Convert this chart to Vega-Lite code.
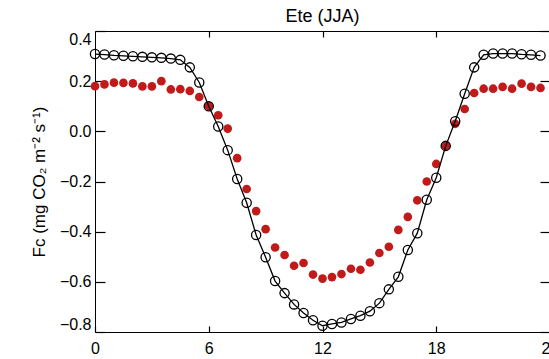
{
  "$schema": "https://vega.github.io/schema/vega-lite/v6.json",
  "width": 455,
  "height": 301,
  "autosize": {"type": "none"},
  "padding": {"left": 95, "top": 31, "right": 0, "bottom": 27},
  "background": "white",
  "config": {
    "view": {"stroke": "black", "strokeWidth": 1},
    "font": "Liberation Sans",
    "axis": {"grid": false, "domain": false, "tickColor": "black", "tickWidth": 1.2, "labelColor": "black", "titleColor": "black", "labelFont": "Liberation Sans", "titleFont": "Liberation Sans"}
  },
  "title": {"text": "Ete (JJA)", "fontSize": 18, "fontWeight": "normal", "font": "Liberation Sans", "color": "black", "offset": 4},
  "data": {"values": [
    {"hour": 0.0, "obs": 0.18, "mod": 0.308},
    {"hour": 0.5, "obs": 0.187, "mod": 0.306},
    {"hour": 1.0, "obs": 0.194, "mod": 0.303},
    {"hour": 1.5, "obs": 0.193, "mod": 0.301},
    {"hour": 2.0, "obs": 0.191, "mod": 0.299},
    {"hour": 2.5, "obs": 0.179, "mod": 0.297},
    {"hour": 3.0, "obs": 0.179, "mod": 0.295},
    {"hour": 3.5, "obs": 0.2, "mod": 0.293},
    {"hour": 4.0, "obs": 0.167, "mod": 0.29},
    {"hour": 4.5, "obs": 0.168, "mod": 0.285},
    {"hour": 5.0, "obs": 0.161, "mod": 0.255},
    {"hour": 5.5, "obs": 0.137, "mod": 0.195},
    {"hour": 6.0, "obs": 0.101, "mod": 0.1},
    {"hour": 6.5, "obs": 0.064, "mod": 0.019},
    {"hour": 7.0, "obs": 0.011, "mod": -0.075},
    {"hour": 7.5, "obs": -0.107, "mod": -0.19},
    {"hour": 8.0, "obs": -0.23, "mod": -0.285},
    {"hour": 8.5, "obs": -0.318, "mod": -0.413},
    {"hour": 9.0, "obs": -0.39, "mod": -0.502},
    {"hour": 9.5, "obs": -0.463, "mod": -0.597},
    {"hour": 10.0, "obs": -0.493, "mod": -0.645},
    {"hour": 10.5, "obs": -0.536, "mod": -0.69},
    {"hour": 11.0, "obs": -0.525, "mod": -0.724},
    {"hour": 11.5, "obs": -0.571, "mod": -0.753},
    {"hour": 12.0, "obs": -0.587, "mod": -0.775},
    {"hour": 12.5, "obs": -0.581, "mod": -0.768},
    {"hour": 13.0, "obs": -0.569, "mod": -0.762},
    {"hour": 13.5, "obs": -0.548, "mod": -0.748},
    {"hour": 14.0, "obs": -0.552, "mod": -0.735},
    {"hour": 14.5, "obs": -0.523, "mod": -0.717},
    {"hour": 15.0, "obs": -0.485, "mod": -0.685},
    {"hour": 15.5, "obs": -0.46, "mod": -0.63},
    {"hour": 16.0, "obs": -0.393, "mod": -0.58},
    {"hour": 16.5, "obs": -0.341, "mod": -0.473},
    {"hour": 17.0, "obs": -0.275, "mod": -0.406},
    {"hour": 17.5, "obs": -0.2, "mod": -0.273},
    {"hour": 18.0, "obs": -0.13, "mod": -0.185},
    {"hour": 18.5, "obs": -0.058, "mod": -0.058},
    {"hour": 19.0, "obs": 0.03, "mod": 0.04},
    {"hour": 19.5, "obs": 0.089, "mod": 0.15},
    {"hour": 20.0, "obs": 0.153, "mod": 0.255},
    {"hour": 20.5, "obs": 0.17, "mod": 0.305},
    {"hour": 21.0, "obs": 0.17, "mod": 0.31},
    {"hour": 21.5, "obs": 0.177, "mod": 0.31},
    {"hour": 22.0, "obs": 0.17, "mod": 0.31},
    {"hour": 22.5, "obs": 0.19, "mod": 0.307},
    {"hour": 23.0, "obs": 0.177, "mod": 0.305},
    {"hour": 23.5, "obs": 0.173, "mod": 0.302}
  ]},
  "layer": [
    {
      "mark": {"type": "point", "filled": true, "size": 75, "color": "#c01a1a", "opacity": 1},
      "encoding": {
        "x": {"field": "hour", "type": "quantitative", "scale": {"domain": [0, 24], "nice": false, "zero": false},
              "axis": {"orient": "bottom", "values": [0, 6, 12, 18, 24], "tickSize": -6, "labelPadding": 14, "labelFontSize": 16, "labelFlush": false, "labelBound": false, "labelOverlap": false, "title": null}},
        "y": {"field": "obs", "type": "quantitative", "scale": {"domain": [-0.8, 0.4], "nice": false, "zero": false},
              "axis": {"orient": "left", "values": [-0.8, -0.6, -0.4, -0.2, 0, 0.2, 0.4], "format": ".1f", "tickSize": -10, "labelPadding": 14, "labelFontSize": 16, "labelFlush": true, "labelFlushOffset": 0, "labelOverlap": false,
                       "title": "Fc  (mg  CO₂  m⁻²  s⁻¹)", "titleFontSize": 17, "titleFontWeight": "normal", "titlePadding": 11}}
      }
    },
    {
      "mark": {"type": "line", "color": "black", "strokeWidth": 1.3},
      "encoding": {
        "x": {"field": "hour", "type": "quantitative", "scale": {"domain": [0, 24], "nice": false, "zero": false},
              "axis": {"orient": "top", "values": [6, 12, 18], "tickSize": -6, "labels": false, "title": null}},
        "y": {"field": "mod", "type": "quantitative", "scale": {"domain": [-0.8, 0.4], "nice": false, "zero": false},
              "axis": {"orient": "right", "values": [-0.8, -0.6, -0.4, -0.2, 0, 0.2, 0.4], "tickSize": -10, "labels": false, "title": null}}
      }
    },
    {
      "mark": {"type": "point", "filled": false, "size": 85, "stroke": "black", "strokeWidth": 1.3, "opacity": 1},
      "encoding": {
        "x": {"field": "hour", "type": "quantitative", "axis": null},
        "y": {"field": "mod", "type": "quantitative", "axis": null}
      }
    }
  ],
  "resolve": {"axis": {"x": "independent", "y": "independent"}}
}
